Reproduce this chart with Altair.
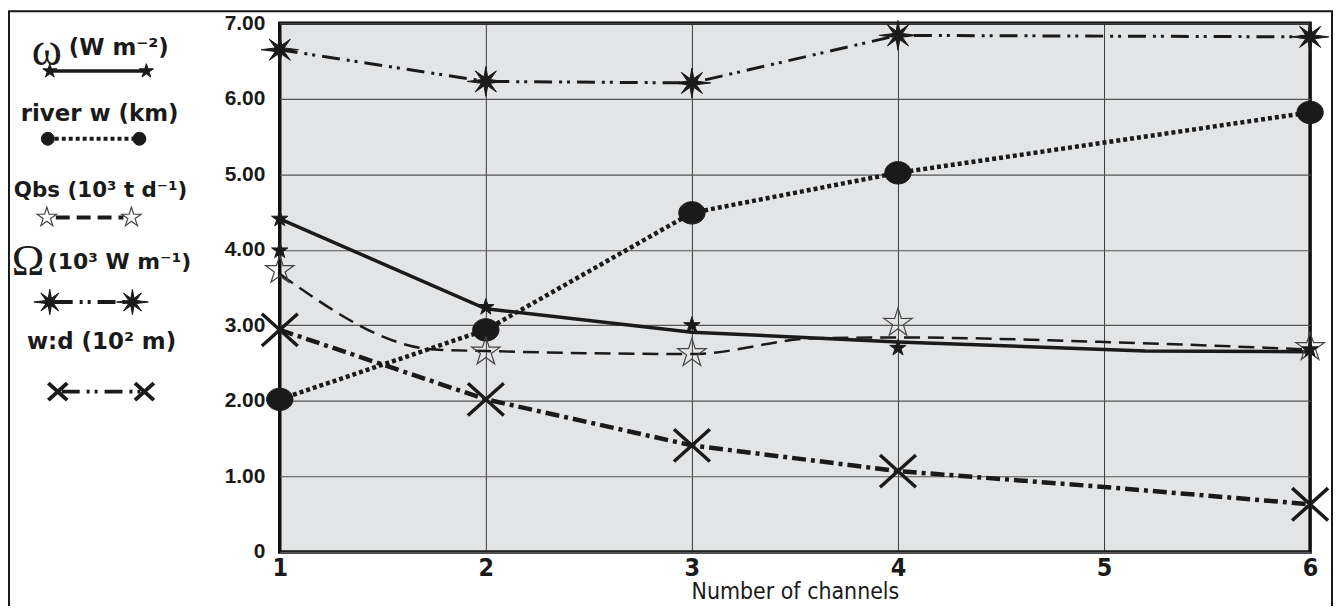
import altair as alt
import pandas as pd

# ---------------- data ----------------
x_ticks = [1, 2, 3, 4, 5, 6]
y_ticks = [0, 1, 2, 3, 4, 5, 6, 7]

omega_line_x = [1, 2, 3, 4, 5.2, 6]
omega_line_y = [4.41, 3.22, 2.91, 2.78, 2.66, 2.65]
omega_mark_x = [1, 1, 2, 3, 4, 6]
omega_mark_y = [4.41, 3.99, 3.24, 3.00, 2.70, 2.68]

river_x = [1, 2, 3, 4, 6]
river_y = [2.02, 2.94, 4.49, 5.02, 5.82]

qbs_line_x = [1, 1.75, 2, 3, 3.6, 4, 5, 6]
qbs_line_y = [3.68, 2.68, 2.66, 2.62, 2.83, 2.84, 2.78, 2.68]
qbs_mark_x = [1, 2, 3, 4, 6]
qbs_mark_y = [3.73, 2.65, 2.63, 3.03, 2.71]

Omega_x = [1, 2, 3, 4, 6]
Omega_y = [6.65, 6.23, 6.21, 6.84, 6.82]

wd_line_x = [1, 2, 3, 4, 5, 6]
wd_line_y = [2.94, 2.02, 1.41, 1.07, 0.86, 0.63]
wd_mark_x = [1, 2, 3, 4, 6]
wd_mark_y = [2.94, 2.02, 1.41, 1.07, 0.63]

x_title = "Number of channels"
lbl_omega = ("ω", "(W m⁻²)")
lbl_river = "river w (km)"
lbl_qbs = "Qbs (10³ t d⁻¹)"
lbl_Omega = ("Ω", "(10³ W m⁻¹)")
lbl_wd = "w:d (10² m)"

# ---------------- layout / style ----------------
PL, PT, W, H = 281, 22, 1035, 531
PAD = {"left": 273, "top": 14, "right": 23, "bottom": 53}
INK = "#1a1a1a"
SANS = "Liberation Sans, Arial, sans-serif"
LEG = "DejaVu Sans, Liberation Sans, sans-serif"
NARROW = "Liberation Sans Narrow, DejaVu Sans Condensed, Arial Narrow, Liberation Sans, sans-serif"
SERIF = "Liberation Serif, DejaVu Serif, serif"

STAR5 = ("M0,-1L0.223,-0.307L0.951,-0.309L0.361,0.117L0.588,0.809L0,0.38"
         "L-0.588,0.809L-0.361,0.117L-0.951,-0.309L-0.223,-0.307Z")
BURST = ("M0,-1L0.122,-0.296L0.707,-0.707L0.296,-0.122L1.25,0L0.296,0.122"
         "L0.707,0.707L0.122,0.296L0,1L-0.122,0.296L-0.707,0.707L-0.296,0.122"
         "L-1.25,0L-0.296,-0.122L-0.707,-0.707L-0.122,-0.296Z")
XMARK = "M-1,-0.9L1,0.9M-1,0.9L1,-0.9"
ELLIPSE = "M-1,0A1,0.85,0,1,0,1,0A1,0.85,0,1,0,-1,0Z"

DASH_RIVER = [4, 3]
DASH_QBS = [16, 8]
DASH_OMEGA = [18, 7, 3, 5, 3, 7]
DASH_WD = [14, 5, 4, 5]

xscale = alt.Scale(domain=[1, 6], nice=False, zero=False)
yscale = alt.Scale(domain=[0, 7], nice=False, zero=False)

X = alt.X("n:Q", scale=xscale, title=x_title,
          axis=alt.Axis(values=x_ticks, format="d", grid=True, gridColor="#111",
                        gridWidth=0.8, domain=False, ticks=False,
                        labelFont=NARROW, labelFontSize=25, labelFontWeight="bold",
                        labelColor=INK, labelPadding=4, labelFlush=False,
                        titleFont=NARROW, titleFontSize=23, titleFontWeight="normal",
                        titleColor=INK, titlePadding=0))
Y = alt.Y("v:Q", scale=yscale, title=None,
          axis=alt.Axis(values=y_ticks, grid=True, gridColor="#555", gridWidth=1.2,
                        domain=False, ticks=False,
                        labelExpr="datum.value == 0 ? '0' : format(datum.value, '.2f')",
                        labelFont=SANS, labelFontSize=21, labelFontWeight="bold",
                        labelColor=INK, labelPadding=15))


def df(xs, ys):
    return pd.DataFrame({"n": xs, "v": ys})


def line(xs, ys, width, dash=None, interp="linear"):
    kw = dict(color=INK, strokeWidth=width, interpolate=interp, strokeCap="butt")
    if dash:
        kw["strokeDash"] = dash
    return alt.Chart(df(xs, ys)).mark_line(**kw).encode(x=X, y=Y)


def points(xs, ys, shape, size, filled=True, stroke=INK, sw=1, fill=INK):
    kw = dict(shape=shape, size=size, opacity=1, strokeWidth=sw, stroke=stroke)
    if filled:
        kw.update(filled=True, fill=fill)
    else:
        kw.update(filled=False, fillOpacity=0)
    return alt.Chart(df(xs, ys)).mark_point(**kw).encode(x=X, y=Y)


ONE = alt.Data(values=[{"k": 1}])


def gx(px):
    return alt.value(px - PL)


def gy(py):
    return alt.value(py - PT)


def lg_text(txt, px, py, size=23, font=LEG, weight="bold", align="center"):
    return alt.Chart(ONE).mark_text(text=txt, font=font, fontSize=size, fontWeight=weight,
                                    align=align, baseline="middle", color=INK).encode(
        x=gx(px), y=gy(py))


def lg_rule(x1, x2, py, width, dash=None):
    kw = dict(color=INK, strokeWidth=width, strokeCap="butt")
    if dash:
        kw["strokeDash"] = dash
    return alt.Chart(ONE).mark_rule(**kw).encode(x=gx(x1), x2=gx(x2), y=gy(py))


def lg_point(px, py, shape, size, filled=True, stroke=INK, sw=1):
    kw = dict(shape=shape, size=size, opacity=1, strokeWidth=sw, stroke=stroke)
    if filled:
        kw.update(filled=True, fill=INK)
    else:
        kw.update(filled=False, fillOpacity=0)
    return alt.Chart(ONE).mark_point(**kw).encode(x=gx(px), y=gy(py))


frame = alt.Chart(ONE).mark_rect(fillOpacity=0, stroke=INK, strokeWidth=2).encode(
    x=gx(9), x2=gx(1338), y=gy(10), y2=gy(PT + H + PAD["bottom"] + 8 - 2))

layers = [
    frame,
    line(Omega_x, Omega_y, 3, DASH_OMEGA),
    line(river_x, river_y, 4.5, DASH_RIVER),
    line(qbs_line_x, qbs_line_y, 2.5, DASH_QBS, "monotone"),
    line(omega_line_x, omega_line_y, 3.5),
    line(wd_line_x, wd_line_y, 4.5, DASH_WD),
    points(Omega_x, Omega_y, BURST, 900),
    points(river_x, river_y, ELLIPSE, 700),
    points(qbs_mark_x, qbs_mark_y, STAR5, 900, filled=False, stroke="#444", sw=1.2),
    points(omega_mark_x, omega_mark_y, STAR5, 300),
    points(wd_mark_x, wd_mark_y, XMARK, 1300, filled=False, stroke=INK, sw=3.5),
    # legend
    lg_text(lbl_omega[0], 47, 50, size=46, font=SERIF, weight="normal"),
    lg_text(lbl_omega[1], 69, 47, align="left"),
    lg_rule(50, 147, 70, 3.5),
    lg_point(50, 70, STAR5, 220),
    lg_point(147, 70, STAR5, 220),
    lg_text(lbl_river, 100, 113),
    lg_rule(48, 140, 138, 4, DASH_RIVER),
    lg_point(48, 138, "circle", 170),
    lg_point(140, 138, "circle", 170),
    lg_text(lbl_qbs, 101, 190, size=21.5),
    lg_rule(56, 124, 217, 4, [14, 7]),
    lg_point(47, 217, STAR5, 420, filled=False, stroke="#444", sw=1.2),
    lg_point(132, 217, STAR5, 420, filled=False, stroke="#444", sw=1.2),
    lg_text(lbl_Omega[0], 28, 262, size=44, font=SERIF, weight="normal"),
    lg_text(lbl_Omega[1], 48, 262, size=22, align="left"),
    lg_rule(55, 128, 302, 4, DASH_OMEGA),
    lg_point(50, 302, BURST, 650),
    lg_point(133, 302, BURST, 650),
    lg_text(lbl_wd, 102, 342),
    lg_rule(62, 142, 392, 4, DASH_OMEGA),
    lg_point(58, 392, XMARK, 360, filled=False, stroke=INK, sw=4),
    lg_point(145, 392, XMARK, 360, filled=False, stroke=INK, sw=4),
]

chart = alt.layer(*layers).properties(
    width=W, height=H,
    autosize=alt.AutoSizeParams(type="none"),
    padding=PAD,
    background="white",
).configure_view(fill="#e3e4e6", stroke="#111", strokeWidth=3.5)

chart.save("out.html", embed_options={"renderer": "svg", "actions": False})
